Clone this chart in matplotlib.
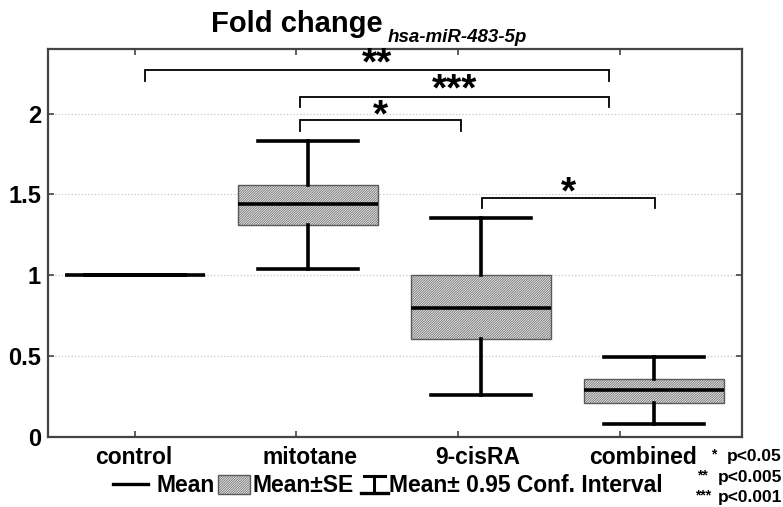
import matplotlib
matplotlib.use('Agg')
import matplotlib.pyplot as plt
import matplotlib.transforms as mtransforms
from matplotlib.patches import Rectangle
from matplotlib.lines import Line2D

# ---- data ----
categories = ['control', 'mitotane', '9-cisRA', 'combined']
mean_vals = [1.0, 1.44, 0.80, 0.29]
se_low = [1.0, 1.31, 0.605, 0.21]
se_high = [1.0, 1.56, 1.0, 0.36]
ci_low = [1.0, 1.04, 0.26, 0.08]
ci_high = [1.0, 1.83, 1.355, 0.495]
yticks = [0, 0.5, 1, 1.5, 2]
ytick_labels = ['0', '0.5', '1', '1.5', '2']
bracket_x0 = [0.06, 0.955, 0.955, 2.005]
bracket_x1 = [2.74, 2.74, 1.885, 3.005]
bracket_y = [2.27, 2.105, 1.96, 1.48]
bracket_labels = ['**', '***', '*', '*']
pvalue_stars = ['*', '**', '***']
pvalue_text = ['p<0.05', 'p<0.005', 'p<0.001']

FONT = 'Liberation Sans'
plt.rcParams['font.family'] = [FONT, 'DejaVu Sans']
plt.rcParams['hatch.linewidth'] = 0.45

W, H = 783, 507
fig = plt.figure(figsize=(W / 100, H / 100), dpi=100)
ax = fig.add_axes([48 / W, 1 - 437 / H, (742 - 48) / W, (437 - 49) / H])

positions = list(range(len(categories)))
stats = []
for i, c in enumerate(categories):
    stats.append(dict(label=c, med=mean_vals[i], q1=se_low[i], q3=se_high[i],
                      whislo=ci_low[i], whishi=ci_high[i], fliers=[]))

HATCH = '//////////////'
BOXFACE = '#e4e4e4'
BOXEDGE = '#5a5a5a'
ax.bxp(stats, positions=positions, widths=0.81, capwidths=0.58, patch_artist=True,
       showfliers=False,
       boxprops=dict(facecolor=BOXFACE, edgecolor=BOXEDGE, hatch=HATCH, linewidth=1.0),
       medianprops=dict(color='black', linewidth=2.6),
       whiskerprops=dict(color='black', linewidth=2.6),
       capprops=dict(color='black', linewidth=2.6))

ax.set_xlim(-0.503, 3.51)
ax.set_ylim(0, 2.40)
ax.set_yticks(yticks)
ax.set_yticklabels(ytick_labels, fontsize=17, fontweight='bold')
ax.yaxis.grid(True, linestyle=':', color='#c8c8c8', linewidth=0.9)
ax.set_axisbelow(True)

tick_pos = [0, 0.931, 1.867, 2.803]
ax.set_xticks(tick_pos)
ax.set_xticklabels([])
ax.tick_params(axis='both', direction='in', length=4, width=1.2, color='#444444',
               top=True, right=True, pad=5)
for s in ax.spines.values():
    s.set_color('#444444')
    s.set_linewidth(1.6)

lab_tr = mtransforms.blended_transform_factory(ax.transData, fig.transFigure)
label_x = [-0.006, 1.01, 1.98, 2.94]
for xp, c in zip(label_x, categories):
    ax.text(xp, 1 - 463.5 / H, c, transform=lab_tr, ha='center', va='baseline',
            fontsize=16.5, fontweight='bold', clip_on=False)

# significance brackets
leg = 0.065
for x0, x1, y, lab in zip(bracket_x0, bracket_x1, bracket_y, bracket_labels):
    ax.plot([x0, x0, x1, x1], [y - leg, y, y, y - leg], color='black', lw=1.3,
            clip_on=False, solid_joinstyle='miter')
    off = -4.5 if len(lab) == 1 else -3.0
    ax.annotate(lab, xy=((x0 + x1) / 2, y), xytext=(0, off), textcoords='offset points',
                ha='center', va='baseline', fontsize=28, fontweight='bold', annotation_clip=False)

# title
fig.text(211 / W, 1 - 32 / H, 'Fold change', fontsize=21, fontweight='bold', va='baseline', ha='left')
fig.text(388 / W, 1 - 42 / H, 'hsa-miR-483-5p', fontsize=13.5, fontweight='bold',
         fontstyle='italic', va='baseline', ha='left')

# legend (drawn manually)
lb = 1 - 492 / H
fig.add_artist(Line2D([113 / W, 148 / W], [1 - 484 / H] * 2, color='black', lw=2.4))
fig.text(157 / W, lb, 'Mean', fontsize=16.5, fontweight='bold', va='baseline', ha='left')
fig.add_artist(Rectangle((218 / W, 1 - 494 / H), 32 / W, 19 / H, facecolor=BOXFACE,
                         edgecolor=BOXEDGE, hatch=HATCH, lw=1.0, transform=fig.transFigure))
fig.text(252 / W, lb, 'Mean±SE', fontsize=16.5, fontweight='bold', va='baseline', ha='left')
cx = 374 / W
fig.add_artist(Line2D([cx, cx], [1 - 476 / H, 1 - 493 / H], color='black', lw=2.2))
fig.add_artist(Line2D([361 / W, 388 / W], [1 - 493 / H] * 2, color='black', lw=2.4))
fig.add_artist(Line2D([364 / W, 385 / W], [1 - 476 / H] * 2, color='black', lw=2.2))
fig.text(389 / W, lb, 'Mean± 0.95 Conf. Interval', fontsize=16.5, fontweight='bold',
         va='baseline', ha='left')

# p-value notes
p_base = [461, 482, 502]
star_right = [716, 708, 711]
star_base = [458, 479, 499]
for s, t, yb, sr, sb in zip(pvalue_stars, pvalue_text, p_base, star_right, star_base):
    fig.text(782 / W, 1 - yb / H, t, fontsize=12.5, fontweight='bold', va='baseline', ha='right')
    fig.text(sr / W, 1 - sb / H, s, fontsize=10, fontweight='bold', va='baseline', ha='right')

fig.savefig('out.png', dpi=100)
